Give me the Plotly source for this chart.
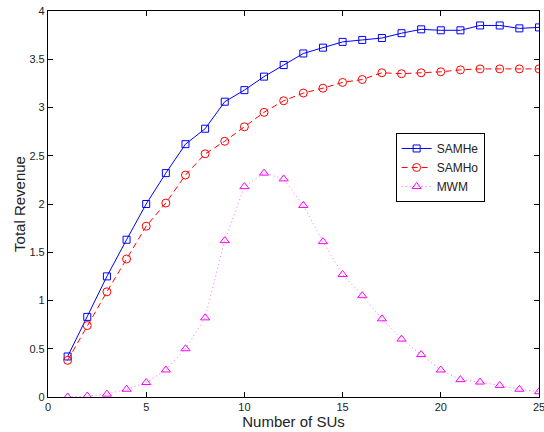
import plotly.graph_objects as go

x_sus = list(range(1, 26))
samhe = [0.42, 0.83, 1.25, 1.63, 2.00, 2.32, 2.62, 2.78, 3.06, 3.18, 3.32, 3.44, 3.56, 3.62,
         3.68, 3.70, 3.72, 3.77, 3.81, 3.80, 3.80, 3.85, 3.85, 3.82, 3.83]
samho = [0.38, 0.74, 1.09, 1.43, 1.77, 2.01, 2.30, 2.52, 2.65, 2.80, 2.95, 3.07, 3.15, 3.20,
         3.26, 3.29, 3.36, 3.35, 3.36, 3.37, 3.39, 3.40, 3.40, 3.40, 3.40]
mwm = [0.00, 0.01, 0.03, 0.08, 0.15, 0.28, 0.50, 0.82, 1.62, 2.18, 2.32, 2.26, 1.985, 1.61,
       1.27, 1.05, 0.81, 0.60, 0.44, 0.28, 0.18, 0.155, 0.12, 0.08, 0.055]
x_ticks = [0, 5, 10, 15, 20, 25]
y_ticks = [0, 0.5, 1, 1.5, 2, 2.5, 3, 3.5, 4]
y_tick_labels = ["0", "0.5", "1", "1.5", "2", "2.5", "3", "3.5", "4"]

fig = go.Figure()
fig.add_trace(go.Scatter(x=x_sus, y=samhe, name="SAMHe", mode="lines+markers",
                         line=dict(color="#0000ff", width=1),
                         marker=dict(symbol="square-open", size=7, color="#0000ff",
                                     line=dict(width=1))))
fig.add_trace(go.Scatter(x=x_sus, y=samho, name="SAMHo", mode="lines+markers",
                         line=dict(color="#ff0000", width=1, dash="6px,4px"),
                         marker=dict(symbol="circle-open", size=8, color="#ff0000",
                                     line=dict(width=1))))
fig.add_trace(go.Scatter(x=x_sus, y=mwm, name="MWM", mode="lines+markers",
                         line=dict(color="#ff66ff", width=1, dash="1px,3px"),
                         marker=dict(symbol="triangle-up-open", size=8, color="#ff00ff",
                                     line=dict(width=1))))

axis_common = dict(showline=True, linecolor="black", linewidth=1.2, mirror="ticks",
                   ticks="inside", ticklen=5, tickcolor="black", showgrid=False,
                   zeroline=False, automargin=False, ticklabeloverflow="allow",
                   tickfont=dict(family="Liberation Sans, Arial", size=11, color="#222222"))
fig.update_xaxes(range=[0, 25], tickvals=x_ticks,
                 title=dict(text="Number of SUs", standoff=0,
                            font=dict(family="Liberation Sans, Arial", size=15, color="#222222")),
                 **axis_common)
fig.update_yaxes(range=[0, 4], tickvals=y_ticks, ticktext=y_tick_labels,
                 title=dict(text="Total Revenue", standoff=0,
                            font=dict(family="Liberation Sans, Arial", size=15, color="#222222")),
                 **axis_common)
fig.update_layout(
    width=544, height=432,
    margin=dict(l=48, r=5, t=11, b=35),
    paper_bgcolor="white", plot_bgcolor="white",
    legend=dict(x=0.708, y=0.684, xanchor="left", yanchor="top",
                bordercolor="black", borderwidth=1, bgcolor="white",
                itemwidth=30, tracegroupgap=0,
                font=dict(family="Liberation Sans, Arial", size=12, color="#222222")),
    showlegend=True,
)
fig.write_html("out.html", config={"displayModeBar": False},
               post_script="document.body.style.margin='0';document.body.style.overflow='hidden';")
